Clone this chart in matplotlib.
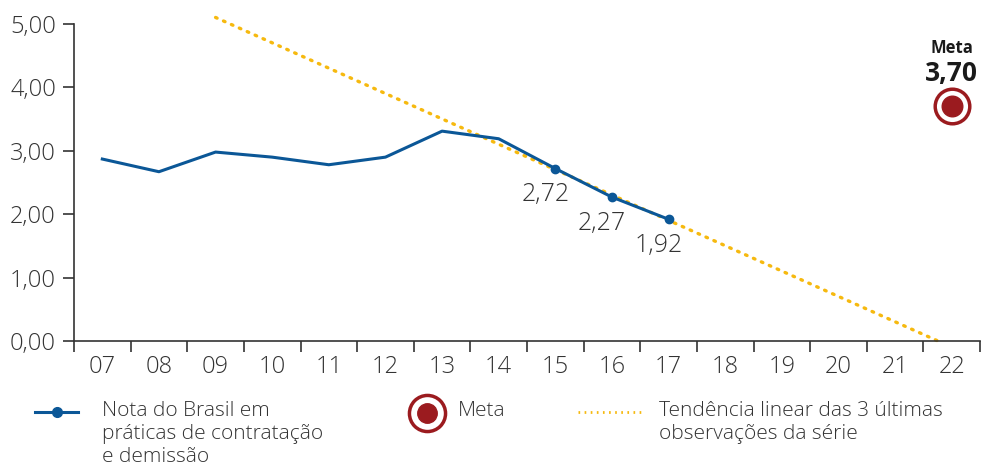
import numpy as np
import matplotlib.pyplot as plt
from matplotlib.lines import Line2D

anos = ['07', '08', '09', '10', '11', '12', '13', '14', '15', '16', '17', '18', '19', '20', '21', '22']
nota = [2.87, 2.67, 2.98, 2.90, 2.78, 2.90, 3.31, 3.19, 2.72, 2.27, 1.92]
rotulos = ['2,72', '2,27', '1,92']
meta = 3.70

azul = '#0b5797'
amarelo = '#f6b90f'
vinho = '#9b1b1f'
cinza = '#333333'

plt.rcParams['font.family'] = ['Open Sans', 'DejaVu Sans']
plt.rcParams['font.weight'] = 'light'

fig = plt.figure(figsize=(9.81, 4.70), dpi=100)
ax = fig.add_axes([74 / 981, 129 / 470, 906 / 981, 317 / 470])

x = np.arange(len(anos))
xn = x[:len(nota)]

# tendência linear das 3 últimas observações, de 09 até cruzar o zero
coef = np.polyfit(xn[-3:], nota[-3:], 1)
x_zero = -coef[1] / coef[0]
xt = np.array([2, x_zero])
ax.plot(xt, np.polyval(coef, xt), color=amarelo, lw=2.4, ls=(0, (0.5, 2.1)),
        dash_capstyle='round', clip_on=False, zorder=2)

ax.plot(xn, nota, color=azul, lw=2.2, zorder=3)
ax.plot(xn[-3:], nota[-3:], 'o', color=azul, ms=6, zorder=4)

for xi, yi, txt in zip(xn[-3:], nota[-3:], rotulos):
    ax.annotate(txt, (xi, yi), xytext=(-10, -26), textcoords='offset pixels',
                ha='center', va='center', fontsize=18, color=cinza)

# meta
xm = len(anos) - 1
ax.scatter([xm], [meta], s=620, facecolor='white', edgecolor=vinho, linewidth=2.5, zorder=5, clip_on=False)
ax.scatter([xm], [meta], s=220, color=vinho, zorder=6, clip_on=False)
ax.annotate('3,70', (xm, meta), xytext=(0, 33), textcoords='offset pixels',
            ha='center', va='center', fontsize=19, fontweight='bold', color='#1a1a1a')
ax.annotate('Meta', (xm, meta), xytext=(0, 58), textcoords='offset pixels',
            ha='center', va='center', fontsize=12, fontweight='bold', color='#1a1a1a')

ax.set_xlim(-0.5, len(anos) - 0.5)
ax.set_ylim(0, 5)
ax.set_xticks(x)
ax.set_xticklabels(anos)
ax.set_xticks(np.arange(-0.5, len(anos)), minor=True)
ax.tick_params(axis='x', which='major', length=0, pad=10, labelsize=17, labelcolor=cinza)
ax.tick_params(axis='x', which='minor', length=8, width=1.2, color='#333333')
ax.set_yticks(np.arange(0, 5.01, 1))
ax.set_yticklabels([f'{v:.2f}'.replace('.', ',') for v in np.arange(0, 5.01, 1)])
ax.tick_params(axis='y', length=8, width=1.2, color='#333333', pad=5, labelsize=17, labelcolor=cinza)

for s in ['top', 'right']:
    ax.spines[s].set_visible(False)
for s in ['left', 'bottom']:
    ax.spines[s].set_linewidth(1.2)
    ax.spines[s].set_color('#333333')

# legenda
fig.add_artist(Line2D([35 / 981, 78 / 981], [1 - 412 / 470] * 2, color=azul, lw=2.2))
fig.add_artist(Line2D([57 / 981], [1 - 412 / 470], color=azul, marker='o', ms=7, lw=0))
fig.text(102 / 981, 1 - 401 / 470, 'Nota do Brasil em\npráticas de contratação\ne demissão',
         ha='left', va='top', fontsize=15, color=cinza, linespacing=1.2)
fig.add_artist(Line2D([427 / 981], [1 - 413 / 470], marker='o', ms=26, mfc='white', mec=vinho, mew=2.5, lw=0))
fig.add_artist(Line2D([427 / 981], [1 - 413 / 470], marker='o', ms=14, color=vinho, lw=0))
fig.text(458 / 981, 1 - 401 / 470, 'Meta', ha='left', va='top', fontsize=15, color=cinza)
fig.add_artist(Line2D([578 / 981, 643 / 981], [1 - 412 / 470] * 2, color=amarelo, lw=2,
                      ls=(0, (0.6, 1.6))))
fig.text(659 / 981, 1 - 401 / 470, 'Tendência linear das 3 últimas\nobservações da série',
         ha='left', va='top', fontsize=15, color=cinza, linespacing=1.2)

fig.savefig('out.png', dpi=100)
